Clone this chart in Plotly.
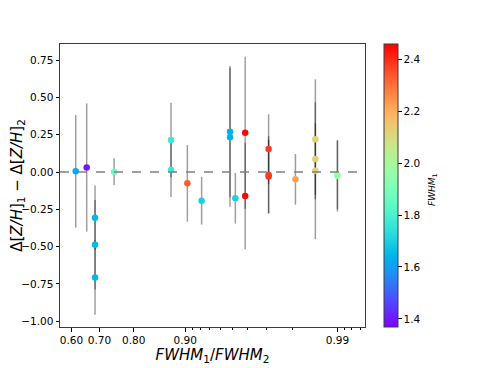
import numpy as np
import plotly.graph_objects as go

# FWHM_1 / FWHM_2 ratio, metallicity difference, its error, and FWHM_1
ratio = [0.616, 0.656, 0.685, 0.685, 0.685, 0.746, 0.878, 0.878, 0.903, 0.921,
         0.948, 0.948, 0.952, 0.9586, 0.9586, 0.971, 0.971, 0.971, 0.9808,
         0.9859, 0.9859, 0.9859, 0.990, 0.990]
dzh = [0.005, 0.03, -0.306, -0.488, -0.707, 0.002, 0.214, 0.013, -0.076, -0.192,
       0.27, 0.233, -0.176, 0.263, -0.161, 0.154, -0.02, -0.03, -0.049,
       0.219, 0.087, 0.009, -0.025, -0.02]
dzh_err = [0.378, 0.43, 0.215, 0.30, 0.25, 0.09, 0.25, 0.18, 0.257, 0.16,
           0.44, 0.466, 0.17, 0.51, 0.357, 0.233, 0.26, 0.245, 0.17,
           0.402, 0.24, 0.459, 0.24, 0.23]
fwhm1 = [1.62, 1.40, 1.65, 1.65, 1.65, 1.86, 1.77, 1.77, 2.33, 1.70,
         1.64, 1.64, 1.70, 2.45, 2.45, 2.38, 2.38, 2.38, 2.22,
         2.13, 2.13, 2.13, 1.97, 1.97]

xticks = [0.60, 0.70, 0.80, 0.90, 0.99]
xminor = [0.91, 0.92, 0.93, 0.94, 0.95, 0.96, 0.97, 0.98, 0.991, 0.992, 0.993]
yticks = [-1.0, -0.75, -0.5, -0.25, 0.0, 0.25, 0.5, 0.75]


def logit(p):
    p = np.asarray(p, dtype=float)
    return np.log(p / (1 - p))


# matplotlib "rainbow" colormap
def rainbow():
    out = []
    for f in np.linspace(0, 1, 21):
        r = abs(2 * f - 0.5)
        g = np.sin(np.pi * f)
        b = np.cos(np.pi * f / 2)
        r, g, b = [int(round(255 * min(max(c, 0), 1))) for c in (r, g, b)]
        out.append([float(f), f"rgb({r},{g},{b})"])
    return out


xl_lo, xl_hi = logit(0.556), logit(0.9935)

fig = go.Figure()
fig.add_trace(go.Scatter(
    x=logit(ratio), y=dzh, mode="markers",
    error_y=dict(type="data", array=dzh_err, color="rgba(0,0,0,0.38)",
                 thickness=1.5, width=0),
    marker=dict(size=6.5, color=fwhm1, colorscale=rainbow(), cmin=1.369, cmax=2.458,
                line=dict(width=0),
                colorbar=dict(
                    x=1.062, xanchor="left", y=0.5, yanchor="middle",
                    len=1, lenmode="fraction", thickness=14, xpad=0, ypad=0,
                    outlinewidth=1, outlinecolor="rgb(60,60,60)",
                    tickvals=[1.4, 1.6, 1.8, 2.0, 2.2, 2.4], tickformat=".1f",
                    ticks="outside", ticklen=3.5, tickcolor="black",
                    tickfont=dict(size=10.5, color="black"))),
    showlegend=False))
fig.add_trace(go.Scatter(
    x=[xl_lo, xl_hi], y=[0, 0], mode="lines",
    line=dict(color="rgb(128,128,128)", dash="dash", width=1.5),
    showlegend=False, hoverinfo="skip"))

fig.add_annotation(
    text="<i>FWHM</i><sub>1</sub>", textangle=-90, showarrow=False,
    xref="paper", yref="paper", x=1.2197, y=0.484,
    xanchor="center", yanchor="middle", font=dict(size=9, color="black"))

# page body adds an 8px offset, so the figure is 8px smaller than the window
fig.update_layout(
    width=482, height=360,
    margin=dict(l=52, r=125, t=36, b=41, autoexpand=False),
    plot_bgcolor="white", paper_bgcolor="white",
    font=dict(family="DejaVu Sans", color="black"),
)
fig.update_xaxes(
    range=[xl_lo, xl_hi], tickvals=list(logit(xticks)),
    ticktext=[f"{t:.2f}" for t in xticks],
    ticks="outside", ticklen=3.5, tickcolor="black",
    minor=dict(tickmode="array", tickvals=list(logit(xminor)), ticks="outside",
               ticklen=2, tickcolor="black"),
    showgrid=False, zeroline=False, showline=True, mirror=True,
    linecolor="rgb(60,60,60)", linewidth=1, automargin=False,
    tickfont=dict(size=10.5),
    title=dict(text="<i>FWHM</i><sub>1</sub>/<i>FWHM</i><sub>2</sub>",
               font=dict(size=15), standoff=4))
fig.update_yaxes(
    range=[-1.039, 0.858], tickvals=yticks, tickformat=".2f",
    ticks="outside", ticklen=3.5, tickcolor="black",
    showgrid=False, zeroline=False, showline=True, mirror=True,
    linecolor="rgb(60,60,60)", linewidth=1, automargin=False,
    tickfont=dict(size=10.5),
    title=dict(text="Δ[<i>Z/H</i>]<sub>1</sub> − Δ[<i>Z/H</i>]<sub>2</sub>",
               font=dict(size=15), standoff=8))

fig.write_html("out.html")
